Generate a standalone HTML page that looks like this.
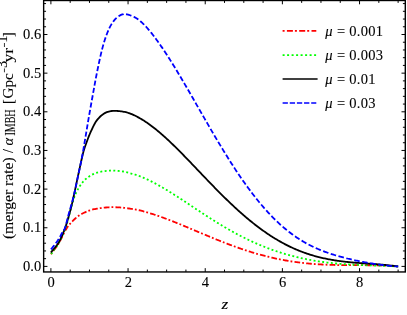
<!DOCTYPE html>
<html><head><meta charset="utf-8"><title>plot</title>
<style>
html,body{margin:0;padding:0;background:#fff;}
body{width:407px;height:315px;overflow:hidden;}
svg{display:block;will-change:transform;}
text{font-family:"Liberation Serif",serif;font-size:14.5px;fill:#000;stroke:#000;stroke-width:0.1px;}
.ax{stroke:#000;stroke-width:1.4;fill:none;}
.tk line{stroke:#000;stroke-width:1.0;}
.c{fill:none;stroke-width:1.8;}
.red{stroke:#ff0000;stroke-dasharray:1.8 2.2 5.7 2.05;}
.green{stroke:#00ff00;stroke-dasharray:1.95 2.4;}
.black{stroke:#000;}
.blue{stroke:#0000ff;stroke-dasharray:5.1 2.35;}
.redl{stroke:#ff0000;stroke-dasharray:2 2.3 6 2;}
.greenl{stroke:#00ff00;stroke-dasharray:2 2.5;}
.blackl{stroke:#000;}
.bluel{stroke:#0000ff;stroke-dasharray:5.3 1.85;}
</style></head><body>
<svg width="407" height="315" viewBox="0 0 407 315">
<path class="c red" d="M51.0,254.30 L52.0,252.86 L53.0,251.45 L54.0,250.06 L55.0,248.74 L56.0,247.46 L57.0,246.12 L58.0,244.64 L59.0,242.97 L60.0,241.11 L61.0,239.06 L62.0,237.00 L63.0,235.05 L64.0,233.14 L65.0,231.26 L66.0,229.44 L67.0,227.75 L68.0,226.29 L69.0,225.02 L70.0,223.89 L71.0,222.82 L72.0,221.78 L73.0,220.74 L74.0,219.73 L75.0,218.77 L76.0,217.89 L77.0,217.06 L78.0,216.29 L79.0,215.59 L80.0,214.94 L81.0,214.35 L82.0,213.80 L83.0,213.27 L84.0,212.78 L85.0,212.32 L86.0,211.89 L87.0,211.47 L88.0,211.08 L89.0,210.70 L90.0,210.36 L91.0,210.05 L92.0,209.75 L93.0,209.48 L94.0,209.23 L95.0,209.01 L96.0,208.83 L97.0,208.66 L98.0,208.49 L99.0,208.34 L100.0,208.20 L101.0,208.06 L102.0,207.93 L103.0,207.80 L104.0,207.69 L105.0,207.58 L106.0,207.48 L107.0,207.40 L108.0,207.34 L109.0,207.28 L110.0,207.25 L111.0,207.22 L112.0,207.20 L113.0,207.20 L114.0,207.20 L115.0,207.22 L116.0,207.25 L117.0,207.29 L118.0,207.34 L119.0,207.40 L120.0,207.47 L121.0,207.55 L122.0,207.63 L123.0,207.73 L124.0,207.84 L125.0,207.97 L126.0,208.10 L127.0,208.23 L128.0,208.36 L129.0,208.50 L130.0,208.64 L131.0,208.78 L132.0,208.93 L133.0,209.09 L134.0,209.26 L135.0,209.43 L136.0,209.62 L137.0,209.82 L138.0,210.03 L139.0,210.25 L140.0,210.49 L141.0,210.73 L142.0,210.99 L143.0,211.24 L144.0,211.51 L145.0,211.78 L146.0,212.06 L147.0,212.34 L148.0,212.63 L149.0,212.93 L150.0,213.23 L151.0,213.54 L152.0,213.85 L153.0,214.17 L154.0,214.49 L155.0,214.82 L156.0,215.16 L157.0,215.49 L158.0,215.84 L159.0,216.18 L160.0,216.54 L161.0,216.89 L162.0,217.25 L163.0,217.62 L164.0,217.98 L165.0,218.35 L166.0,218.73 L167.0,219.11 L168.0,219.49 L169.0,219.87 L170.0,220.26 L171.0,220.65 L172.0,221.04 L173.0,221.44 L174.0,221.84 L175.0,222.24 L176.0,222.64 L177.0,223.04 L178.0,223.45 L179.0,223.86 L180.0,224.27 L181.0,224.68 L182.0,225.10 L183.0,225.51 L184.0,225.93 L185.0,226.34 L186.0,226.76 L187.0,227.18 L188.0,227.60 L189.0,228.02 L190.0,228.45 L191.0,228.87 L192.0,229.29 L193.0,229.71 L194.0,230.14 L195.0,230.56 L196.0,230.98 L197.0,231.41 L198.0,231.83 L199.0,232.26 L200.0,232.68 L201.0,233.10 L202.0,233.52 L203.0,233.94 L204.0,234.36 L205.0,234.78 L206.0,235.20 L207.0,235.62 L208.0,236.04 L209.0,236.45 L210.0,236.87 L211.0,237.28 L212.0,237.69 L213.0,238.10 L214.0,238.51 L215.0,238.92 L216.0,239.33 L217.0,239.73 L218.0,240.13 L219.0,240.53 L220.0,240.93 L221.0,241.33 L222.0,241.72 L223.0,242.11 L224.0,242.50 L225.0,242.89 L226.0,243.28 L227.0,243.66 L228.0,244.04 L229.0,244.42 L230.0,244.80 L231.0,245.17 L232.0,245.54 L233.0,245.91 L234.0,246.27 L235.0,246.63 L236.0,246.99 L237.0,247.35 L238.0,247.70 L239.0,248.05 L240.0,248.40 L241.0,248.74 L242.0,249.08 L243.0,249.42 L244.0,249.75 L245.0,250.09 L246.0,250.41 L247.0,250.74 L248.0,251.06 L249.0,251.38 L250.0,251.69 L251.0,252.00 L252.0,252.31 L253.0,252.61 L254.0,252.91 L255.0,253.21 L256.0,253.50 L257.0,253.79 L258.0,254.07 L259.0,254.35 L260.0,254.63 L261.0,254.91 L262.0,255.18 L263.0,255.44 L264.0,255.71 L265.0,255.97 L266.0,256.22 L267.0,256.47 L268.0,256.72 L269.0,256.96 L270.0,257.20 L271.0,257.44 L272.0,257.67 L273.0,257.90 L274.0,258.12 L275.0,258.34 L276.0,258.56 L277.0,258.77 L278.0,258.98 L279.0,259.18 L280.0,259.38 L281.0,259.58 L282.0,259.77 L283.0,259.96 L284.0,260.15 L285.0,260.33 L286.0,260.51 L287.0,260.68 L288.0,260.85 L289.0,261.01 L290.0,261.18 L291.0,261.33 L292.0,261.49 L293.0,261.64 L294.0,261.79 L295.0,261.93 L296.0,262.07 L297.0,262.20 L298.0,262.34 L299.0,262.46 L300.0,262.59 L301.0,262.71 L302.0,262.83 L303.0,262.94 L304.0,263.05 L305.0,263.16 L306.0,263.26 L307.0,263.37 L308.0,263.46 L309.0,263.56 L310.0,263.65 L311.0,263.73 L312.0,263.82 L313.0,263.90 L314.0,263.98 L315.0,264.05 L316.0,264.12 L317.0,264.19 L318.0,264.26 L319.0,264.32 L320.0,264.38 L321.0,264.44 L322.0,264.49 L323.0,264.54 L324.0,264.59 L325.0,264.64 L326.0,264.69 L327.0,264.73 L328.0,264.77 L329.0,264.80 L330.0,264.84 L331.0,264.87 L332.0,264.90 L333.0,264.93 L334.0,264.96 L335.0,264.98 L336.0,265.00 L337.0,265.03 L338.0,265.04 L339.0,265.06 L340.0,265.08 L341.0,265.09 L342.0,265.11 L343.0,265.12 L344.0,265.13 L345.0,265.14 L346.0,265.15 L347.0,265.15 L348.0,265.16 L349.0,265.16 L350.0,265.17 L351.0,265.17 L352.0,265.18 L353.0,265.18 L354.0,265.18 L355.0,265.18 L356.0,265.19 L357.0,265.19 L358.0,265.19 L359.0,265.19 L360.0,265.19 L361.0,265.20 L362.0,265.20 L363.0,265.20 L364.0,265.20 L365.0,265.21 L366.0,265.21 L367.0,265.22 L368.0,265.23 L369.0,265.24 L370.0,265.24 L371.0,265.26 L372.0,265.27 L373.0,265.28 L374.0,265.30 L375.0,265.31 L376.0,265.33 L377.0,265.35 L378.0,265.38 L379.0,265.40 L380.0,265.43 L381.0,265.46 L382.0,265.49 L383.0,265.53 L384.0,265.57 L385.0,265.61 L386.0,265.65 L387.0,265.70 L388.0,265.75 L389.0,265.81 L390.0,265.87 L391.0,265.93 L392.0,265.99 L393.0,266.06 L394.0,266.14 L395.0,266.22 L396.0,266.30 L397.0,266.39 L398.0,266.48 L398.2,266.50"/>
<path class="c green" d="M51.2,254.00 L52.2,252.47 L53.2,251.00 L54.2,249.58 L55.2,248.28 L56.2,247.00 L57.2,245.63 L58.2,244.12 L59.2,242.42 L60.2,240.50 L61.2,238.36 L62.2,236.10 L63.2,233.76 L64.2,231.31 L65.2,228.71 L66.2,225.82 L67.2,222.65 L68.2,219.21 L69.2,215.22 L70.2,210.82 L71.2,207.24 L72.2,203.91 L73.2,200.64 L74.2,197.47 L75.2,194.73 L76.2,192.59 L77.2,190.71 L78.2,188.88 L79.2,187.14 L80.2,185.55 L81.2,184.11 L82.2,182.77 L83.2,181.57 L84.2,180.50 L85.2,179.53 L86.2,178.64 L87.2,177.82 L88.2,177.09 L89.2,176.40 L90.2,175.76 L91.2,175.17 L92.2,174.65 L93.2,174.17 L94.2,173.72 L95.2,173.31 L96.2,172.94 L97.2,172.59 L98.2,172.28 L99.2,172.02 L100.2,171.81 L101.2,171.61 L102.2,171.44 L103.2,171.28 L104.2,171.15 L105.2,171.02 L106.2,170.90 L107.2,170.80 L108.2,170.70 L109.2,170.62 L110.2,170.55 L111.2,170.51 L112.2,170.50 L113.2,170.52 L114.2,170.57 L115.2,170.64 L116.2,170.73 L117.2,170.82 L118.2,170.92 L119.2,171.01 L120.2,171.10 L121.2,171.21 L122.2,171.34 L123.2,171.50 L124.2,171.70 L125.2,171.94 L126.2,172.20 L127.2,172.46 L128.2,172.73 L129.2,173.00 L130.2,173.26 L131.2,173.53 L132.2,173.81 L133.2,174.08 L134.2,174.37 L135.2,174.67 L136.2,174.97 L137.2,175.30 L138.2,175.64 L139.2,176.01 L140.2,176.39 L141.2,176.79 L142.2,177.20 L143.2,177.62 L144.2,178.05 L145.2,178.50 L146.2,178.95 L147.2,179.41 L148.2,179.88 L149.2,180.36 L150.2,180.85 L151.2,181.34 L152.2,181.85 L153.2,182.36 L154.2,182.89 L155.2,183.42 L156.2,183.95 L157.2,184.50 L158.2,185.05 L159.2,185.61 L160.2,186.17 L161.2,186.75 L162.2,187.32 L163.2,187.91 L164.2,188.50 L165.2,189.09 L166.2,189.69 L167.2,190.30 L168.2,190.91 L169.2,191.53 L170.2,192.15 L171.2,192.77 L172.2,193.40 L173.2,194.03 L174.2,194.67 L175.2,195.31 L176.2,195.95 L177.2,196.59 L178.2,197.24 L179.2,197.89 L180.2,198.54 L181.2,199.20 L182.2,199.86 L183.2,200.51 L184.2,201.17 L185.2,201.83 L186.2,202.50 L187.2,203.16 L188.2,203.82 L189.2,204.49 L190.2,205.15 L191.2,205.82 L192.2,206.48 L193.2,207.15 L194.2,207.81 L195.2,208.48 L196.2,209.14 L197.2,209.80 L198.2,210.46 L199.2,211.12 L200.2,211.78 L201.2,212.44 L202.2,213.10 L203.2,213.75 L204.2,214.40 L205.2,215.06 L206.2,215.70 L207.2,216.35 L208.2,216.99 L209.2,217.64 L210.2,218.28 L211.2,218.91 L212.2,219.55 L213.2,220.18 L214.2,220.80 L215.2,221.43 L216.2,222.05 L217.2,222.67 L218.2,223.28 L219.2,223.89 L220.2,224.50 L221.2,225.10 L222.2,225.70 L223.2,226.30 L224.2,226.89 L225.2,227.48 L226.2,228.06 L227.2,228.64 L228.2,229.21 L229.2,229.79 L230.2,230.35 L231.2,230.91 L232.2,231.47 L233.2,232.02 L234.2,232.57 L235.2,233.12 L236.2,233.66 L237.2,234.19 L238.2,234.72 L239.2,235.24 L240.2,235.76 L241.2,236.28 L242.2,236.79 L243.2,237.29 L244.2,237.79 L245.2,238.29 L246.2,238.78 L247.2,239.27 L248.2,239.75 L249.2,240.22 L250.2,240.69 L251.2,241.16 L252.2,241.62 L253.2,242.07 L254.2,242.52 L255.2,242.97 L256.2,243.41 L257.2,243.85 L258.2,244.28 L259.2,244.70 L260.2,245.12 L261.2,245.54 L262.2,245.95 L263.2,246.35 L264.2,246.75 L265.2,247.15 L266.2,247.54 L267.2,247.93 L268.2,248.31 L269.2,248.68 L270.2,249.05 L271.2,249.42 L272.2,249.78 L273.2,250.13 L274.2,250.48 L275.2,250.83 L276.2,251.17 L277.2,251.51 L278.2,251.84 L279.2,252.16 L280.2,252.48 L281.2,252.80 L282.2,253.11 L283.2,253.42 L284.2,253.72 L285.2,254.02 L286.2,254.31 L287.2,254.60 L288.2,254.88 L289.2,255.16 L290.2,255.43 L291.2,255.70 L292.2,255.96 L293.2,256.22 L294.2,256.48 L295.2,256.73 L296.2,256.97 L297.2,257.22 L298.2,257.45 L299.2,257.68 L300.2,257.91 L301.2,258.14 L302.2,258.35 L303.2,258.57 L304.2,258.78 L305.2,258.99 L306.2,259.19 L307.2,259.39 L308.2,259.58 L309.2,259.77 L310.2,259.95 L311.2,260.14 L312.2,260.31 L313.2,260.49 L314.2,260.66 L315.2,260.82 L316.2,260.98 L317.2,261.14 L318.2,261.30 L319.2,261.45 L320.2,261.59 L321.2,261.74 L322.2,261.87 L323.2,262.01 L324.2,262.14 L325.2,262.27 L326.2,262.40 L327.2,262.52 L328.2,262.64 L329.2,262.75 L330.2,262.87 L331.2,262.98 L332.2,263.08 L333.2,263.18 L334.2,263.28 L335.2,263.38 L336.2,263.48 L337.2,263.57 L338.2,263.66 L339.2,263.74 L340.2,263.83 L341.2,263.91 L342.2,263.98 L343.2,264.06 L344.2,264.13 L345.2,264.20 L346.2,264.27 L347.2,264.34 L348.2,264.40 L349.2,264.47 L350.2,264.53 L351.2,264.58 L352.2,264.64 L353.2,264.69 L354.2,264.75 L355.2,264.80 L356.2,264.85 L357.2,264.90 L358.2,264.94 L359.2,264.99 L360.2,265.03 L361.2,265.07 L362.2,265.11 L363.2,265.15 L364.2,265.19 L365.2,265.23 L366.2,265.27 L367.2,265.30 L368.2,265.34 L369.2,265.37 L370.2,265.41 L371.2,265.44 L372.2,265.48 L373.2,265.51 L374.2,265.54 L375.2,265.58 L376.2,265.61 L377.2,265.64 L378.2,265.68 L379.2,265.71 L380.2,265.74 L381.2,265.78 L382.2,265.81 L383.2,265.85 L384.2,265.88 L385.2,265.92 L386.2,265.95 L387.2,265.99 L388.2,266.03 L389.2,266.07 L390.2,266.11 L391.2,266.16 L392.2,266.20 L393.2,266.25 L394.2,266.29 L395.2,266.34 L396.2,266.39 L397.2,266.45 L398.2,266.50"/>
<path class="c black" d="M50.8,252.50 L51.8,251.37 L52.8,250.21 L53.8,249.02 L54.8,247.80 L55.8,246.52 L56.8,245.20 L57.8,243.79 L58.8,242.19 L59.8,240.40 L60.8,238.36 L61.8,236.12 L62.8,233.80 L63.8,231.35 L64.8,228.77 L65.8,225.94 L66.8,222.86 L67.8,219.56 L68.8,216.10 L69.8,212.48 L70.8,208.68 L71.8,204.65 L72.8,200.35 L73.8,195.78 L74.8,191.09 L75.8,186.35 L76.8,181.60 L77.8,176.89 L78.8,172.25 L79.8,167.60 L80.8,163.00 L81.8,158.52 L82.8,154.24 L83.8,150.38 L84.8,147.27 L85.8,144.50 L86.8,141.73 L87.8,139.02 L88.8,136.44 L89.8,134.03 L90.8,131.73 L91.8,129.51 L92.8,127.35 L93.8,125.31 L94.8,123.45 L95.8,121.81 L96.8,120.40 L97.8,119.16 L98.8,118.03 L99.8,116.98 L100.8,116.02 L101.8,115.17 L102.8,114.40 L103.8,113.71 L104.8,113.11 L105.8,112.61 L106.8,112.18 L107.8,111.82 L108.8,111.54 L109.8,111.34 L110.8,111.15 L111.8,111.01 L112.8,110.90 L113.8,110.85 L114.8,110.85 L115.8,110.88 L116.8,110.92 L117.8,110.99 L118.8,111.07 L119.8,111.18 L120.8,111.30 L121.8,111.44 L122.8,111.59 L123.8,111.77 L124.8,111.97 L125.8,112.20 L126.8,112.46 L127.8,112.74 L128.8,113.06 L129.8,113.41 L130.8,113.79 L131.8,114.19 L132.8,114.63 L133.8,115.08 L134.8,115.56 L135.8,116.05 L136.8,116.57 L137.8,117.10 L138.8,117.65 L139.8,118.20 L140.8,118.78 L141.8,119.37 L142.8,119.98 L143.8,120.60 L144.8,121.24 L145.8,121.90 L146.8,122.57 L147.8,123.26 L148.8,123.97 L149.8,124.69 L150.8,125.42 L151.8,126.17 L152.8,126.93 L153.8,127.71 L154.8,128.49 L155.8,129.30 L156.8,130.11 L157.8,130.93 L158.8,131.77 L159.8,132.62 L160.8,133.48 L161.8,134.35 L162.8,135.23 L163.8,136.12 L164.8,137.01 L165.8,137.92 L166.8,138.84 L167.8,139.77 L168.8,140.70 L169.8,141.64 L170.8,142.59 L171.8,143.55 L172.8,144.51 L173.8,145.48 L174.8,146.46 L175.8,147.44 L176.8,148.43 L177.8,149.43 L178.8,150.43 L179.8,151.43 L180.8,152.44 L181.8,153.46 L182.8,154.48 L183.8,155.50 L184.8,156.52 L185.8,157.55 L186.8,158.59 L187.8,159.62 L188.8,160.66 L189.8,161.70 L190.8,162.74 L191.8,163.78 L192.8,164.83 L193.8,165.88 L194.8,166.92 L195.8,167.97 L196.8,169.02 L197.8,170.07 L198.8,171.12 L199.8,172.17 L200.8,173.22 L201.8,174.27 L202.8,175.32 L203.8,176.36 L204.8,177.41 L205.8,178.45 L206.8,179.50 L207.8,180.54 L208.8,181.58 L209.8,182.62 L210.8,183.65 L211.8,184.68 L212.8,185.71 L213.8,186.74 L214.8,187.76 L215.8,188.78 L216.8,189.80 L217.8,190.81 L218.8,191.82 L219.8,192.82 L220.8,193.83 L221.8,194.82 L222.8,195.82 L223.8,196.80 L224.8,197.79 L225.8,198.76 L226.8,199.74 L227.8,200.70 L228.8,201.67 L229.8,202.62 L230.8,203.58 L231.8,204.52 L232.8,205.46 L233.8,206.40 L234.8,207.32 L235.8,208.24 L236.8,209.16 L237.8,210.07 L238.8,210.97 L239.8,211.87 L240.8,212.76 L241.8,213.64 L242.8,214.51 L243.8,215.38 L244.8,216.24 L245.8,217.10 L246.8,217.94 L247.8,218.78 L248.8,219.61 L249.8,220.44 L250.8,221.25 L251.8,222.06 L252.8,222.86 L253.8,223.65 L254.8,224.44 L255.8,225.22 L256.8,225.99 L257.8,226.75 L258.8,227.50 L259.8,228.24 L260.8,228.98 L261.8,229.71 L262.8,230.43 L263.8,231.14 L264.8,231.84 L265.8,232.54 L266.8,233.22 L267.8,233.90 L268.8,234.57 L269.8,235.23 L270.8,235.88 L271.8,236.52 L272.8,237.15 L273.8,237.78 L274.8,238.40 L275.8,239.00 L276.8,239.60 L277.8,240.19 L278.8,240.77 L279.8,241.35 L280.8,241.91 L281.8,242.47 L282.8,243.01 L283.8,243.55 L284.8,244.08 L285.8,244.60 L286.8,245.11 L287.8,245.61 L288.8,246.11 L289.8,246.59 L290.8,247.07 L291.8,247.54 L292.8,248.00 L293.8,248.45 L294.8,248.89 L295.8,249.32 L296.8,249.75 L297.8,250.17 L298.8,250.58 L299.8,250.98 L300.8,251.37 L301.8,251.75 L302.8,252.13 L303.8,252.50 L304.8,252.86 L305.8,253.21 L306.8,253.55 L307.8,253.89 L308.8,254.22 L309.8,254.54 L310.8,254.85 L311.8,255.16 L312.8,255.46 L313.8,255.75 L314.8,256.03 L315.8,256.31 L316.8,256.58 L317.8,256.84 L318.8,257.10 L319.8,257.35 L320.8,257.59 L321.8,257.82 L322.8,258.05 L323.8,258.28 L324.8,258.49 L325.8,258.70 L326.8,258.91 L327.8,259.11 L328.8,259.30 L329.8,259.48 L330.8,259.66 L331.8,259.84 L332.8,260.01 L333.8,260.18 L334.8,260.34 L335.8,260.49 L336.8,260.64 L337.8,260.78 L338.8,260.92 L339.8,261.06 L340.8,261.19 L341.8,261.32 L342.8,261.44 L343.8,261.56 L344.8,261.68 L345.8,261.79 L346.8,261.90 L347.8,262.00 L348.8,262.10 L349.8,262.20 L350.8,262.30 L351.8,262.39 L352.8,262.48 L353.8,262.56 L354.8,262.65 L355.8,262.73 L356.8,262.81 L357.8,262.89 L358.8,262.97 L359.8,263.04 L360.8,263.12 L361.8,263.19 L362.8,263.26 L363.8,263.33 L364.8,263.40 L365.8,263.47 L366.8,263.54 L367.8,263.61 L368.8,263.67 L369.8,263.74 L370.8,263.81 L371.8,263.88 L372.8,263.95 L373.8,264.02 L374.8,264.09 L375.8,264.16 L376.8,264.24 L377.8,264.31 L378.8,264.39 L379.8,264.47 L380.8,264.55 L381.8,264.63 L382.8,264.72 L383.8,264.81 L384.8,264.90 L385.8,264.99 L386.8,265.09 L387.8,265.19 L388.8,265.29 L389.8,265.40 L390.8,265.52 L391.8,265.63 L392.8,265.76 L393.8,265.88 L394.8,266.01 L395.8,266.15 L396.8,266.29 L397.8,266.44 L398.2,266.50"/>
<path class="c" stroke="#0000ff" d="M51.00,249.30 L52.00,248.14 L53.00,246.92 L54.00,245.67 L54.36,245.21 M55.77,243.32 L56.75,241.97 L57.75,240.55 L58.75,239.03 L58.76,239.00 M59.97,236.99 L60.75,235.51 L61.75,233.49 L62.33,232.37 M63.69,230.44 L64.50,229.11 L65.50,226.32 L65.68,225.71 M66.28,223.49 L67.25,219.66 L67.54,218.52 M68.12,216.30 L69.00,213.11 L69.49,211.36 M70.12,209.14 L71.00,206.00 L71.50,204.21 M72.11,201.99 L73.00,198.68 L73.43,197.03 M73.97,194.80 L74.75,191.46 L75.12,189.81 M75.61,187.57 L76.50,183.40 L76.68,182.57 M77.15,180.32 L78.00,176.27 L78.20,175.32 M78.68,173.07 L79.50,169.24 L79.75,168.07 M80.22,165.83 L81.00,162.07 L81.25,160.82 M81.70,158.57 L82.50,154.40 L82.66,153.55 M83.07,151.29 L83.94,146.26 M84.33,144.00 L85.18,138.97 M85.56,136.71 L86.39,131.67 M86.77,129.41 L87.60,124.37 M87.98,122.11 L88.75,117.59 L88.84,117.08 M89.23,114.82 L90.00,110.49 L90.13,109.79 M90.53,107.53 L91.43,102.50 M91.84,100.25 L92.75,95.22 M93.16,92.96 L94.00,88.30 L94.07,87.94 M94.48,85.68 L95.25,81.46 L95.40,80.66 M95.82,78.40 L96.75,73.60 L96.79,73.39 M97.25,71.13 L98.00,67.49 L98.28,66.13 M98.75,63.88 L99.75,59.19 L99.82,58.88 M100.32,56.64 L101.25,52.64 L101.49,51.66 M102.05,49.43 L103.00,45.87 L103.40,44.48 M104.05,42.27 L105.00,39.30 L105.65,37.39 M106.42,35.21 L107.25,33.02 L108.25,30.56 L108.31,30.42 M109.26,28.30 L110.25,26.33 L111.25,24.59 L111.78,23.74 M113.10,21.79 L114.00,20.60 L115.00,19.41 L116.00,18.38 L116.61,17.83 M118.53,16.34 L119.50,15.69 L120.50,15.11 L121.50,14.63 L122.50,14.29 L123.50,14.10 L123.51,14.09 M126.02,14.25 L127.00,14.45 L128.00,14.68 L129.00,14.95 L130.00,15.25 L131.00,15.59 L131.40,15.73 M133.68,16.71 L134.50,17.12 L135.50,17.67 L136.50,18.28 L137.50,18.94 L138.34,19.55 M140.23,21.07 L141.00,21.74 L142.00,22.65 L143.00,23.60 L144.00,24.59 L144.14,24.74 M145.79,26.47 L146.75,27.51 L147.75,28.63 L148.75,29.79 L149.31,30.44 M150.82,32.28 L151.75,33.43 L152.75,34.70 L153.75,35.99 L154.08,36.43 M155.51,38.32 L156.50,39.67 L157.50,41.05 L158.50,42.44 L158.59,42.58 M159.95,44.51 L160.75,45.66 L161.75,47.12 L162.75,48.59 L162.92,48.84 M164.22,50.79 L165.00,51.97 L166.00,53.49 L167.00,55.03 L167.09,55.18 M168.37,57.15 L169.25,58.54 L170.25,60.12 L171.16,61.57 M172.40,63.57 L173.25,64.94 L174.25,66.56 L175.14,68.02 M176.36,70.02 L177.25,71.50 L178.25,73.17 L179.05,74.50 M180.25,76.51 L181.00,77.78 L182.00,79.48 L182.90,81.00 M184.08,83.02 L185.00,84.59 L186.00,86.31 L186.71,87.53 M187.89,89.55 L188.75,91.05 L189.75,92.78 L190.49,94.07 M191.66,96.10 L192.50,97.55 L193.50,99.29 L194.26,100.61 M195.42,102.65 L196.25,104.09 L197.25,105.83 L198.01,107.17 M199.18,109.20 L200.00,110.63 L201.00,112.38 L201.77,113.72 M202.93,115.75 L203.75,117.17 L204.75,118.90 L205.53,120.27 M206.70,122.29 L207.50,123.67 L208.50,125.40 L209.32,126.80 M210.50,128.83 L211.25,130.12 L212.25,131.83 L213.13,133.33 M214.31,135.35 L215.25,136.94 L216.25,138.63 L216.97,139.84 M218.17,141.85 L219.00,143.24 L220.00,144.90 L220.86,146.33 M222.08,148.33 L223.00,149.85 L224.00,151.49 L224.80,152.79 M226.04,154.79 L227.00,156.34 L228.00,157.94 L228.81,159.22 M230.06,161.21 L231.00,162.68 L232.00,164.24 L232.88,165.61 M234.16,167.59 L235.00,168.87 L236.00,170.38 L237.00,171.89 L237.05,171.96 M238.35,173.92 L239.25,175.25 L240.25,176.72 L241.25,178.18 L241.31,178.26 M242.65,180.19 L243.50,181.41 L244.50,182.83 L245.50,184.24 L245.68,184.49 M247.06,186.40 L248.00,187.70 L249.00,189.06 L250.00,190.41 L250.17,190.65 M251.60,192.54 L252.50,193.73 L253.50,195.03 L254.50,196.31 L254.81,196.72 M256.28,198.58 L257.25,199.78 L258.25,201.02 L259.25,202.24 L259.62,202.68 M261.14,204.51 L262.00,205.52 L263.00,206.69 L264.00,207.84 L264.60,208.53 M266.19,210.31 L267.00,211.21 L268.00,212.30 L269.00,213.38 L269.79,214.22 M271.44,215.95 L272.25,216.78 L273.25,217.80 L274.25,218.80 L275.20,219.74 M276.93,221.41 L277.75,222.19 L278.75,223.12 L279.75,224.04 L280.75,224.95 L280.87,225.05 M282.68,226.65 L283.50,227.36 L284.50,228.21 L285.50,229.04 L286.50,229.86 L286.81,230.11 M288.71,231.62 L289.50,232.24 L290.50,233.00 L291.50,233.75 L292.50,234.49 L293.03,234.88 M295.03,236.29 L296.00,236.96 L297.00,237.63 L298.00,238.30 L299.00,238.95 L299.56,239.30 M301.65,240.60 L302.50,241.11 L303.50,241.71 L304.50,242.29 L305.50,242.85 L306.39,243.35 M308.56,244.52 L309.50,245.01 L310.50,245.52 L311.50,246.01 L312.50,246.50 L313.49,246.98 M315.75,248.02 L316.50,248.35 L317.50,248.79 L318.50,249.22 L319.50,249.64 L320.50,250.05 L320.84,250.19 M323.16,251.10 L324.00,251.42 L325.00,251.80 L326.00,252.16 L327.00,252.52 L328.00,252.87 L328.38,253.01 M330.75,253.81 L331.50,254.05 L332.50,254.38 L333.50,254.69 L334.50,255.00 L335.50,255.31 L336.07,255.48 M338.47,256.18 L339.25,256.40 L340.25,256.68 L341.25,256.95 L342.25,257.22 L343.25,257.49 L343.86,257.65 M346.30,258.27 L347.25,258.50 L348.25,258.75 L349.25,258.99 L350.25,259.22 L351.25,259.45 L351.74,259.57 M354.20,260.12 L355.00,260.29 L356.00,260.51 L357.00,260.72 L358.00,260.93 L359.00,261.13 L359.68,261.27 M362.15,261.76 L363.00,261.92 L364.00,262.11 L365.00,262.29 L366.00,262.47 L367.00,262.65 L367.67,262.77 M370.16,263.20 L371.00,263.34 L372.00,263.51 L373.00,263.67 L374.00,263.82 L375.00,263.98 L375.70,264.08 M378.20,264.45 L379.00,264.56 L380.00,264.70 L381.00,264.83 L382.00,264.97 L383.00,265.09 L383.77,265.19 M386.28,265.48 L387.25,265.59 L388.25,265.69 L389.25,265.80 L390.25,265.89 L391.25,265.99 L391.87,266.04 M394.39,266.25 L395.25,266.31 L396.25,266.38 L397.25,266.44 L398.20,266.50"/>
<g class="tk">
<line x1="50.90" y1="271.95" x2="50.90" y2="268.15"/>
<line x1="50.90" y1="0.5" x2="50.90" y2="4.30"/>
<line x1="70.19" y1="271.95" x2="70.19" y2="269.55"/>
<line x1="70.19" y1="0.5" x2="70.19" y2="2.90"/>
<line x1="89.48" y1="271.95" x2="89.48" y2="269.55"/>
<line x1="89.48" y1="0.5" x2="89.48" y2="2.90"/>
<line x1="108.77" y1="271.95" x2="108.77" y2="269.55"/>
<line x1="108.77" y1="0.5" x2="108.77" y2="2.90"/>
<line x1="128.06" y1="271.95" x2="128.06" y2="268.15"/>
<line x1="128.06" y1="0.5" x2="128.06" y2="4.30"/>
<line x1="147.35" y1="271.95" x2="147.35" y2="269.55"/>
<line x1="147.35" y1="0.5" x2="147.35" y2="2.90"/>
<line x1="166.64" y1="271.95" x2="166.64" y2="269.55"/>
<line x1="166.64" y1="0.5" x2="166.64" y2="2.90"/>
<line x1="185.93" y1="271.95" x2="185.93" y2="269.55"/>
<line x1="185.93" y1="0.5" x2="185.93" y2="2.90"/>
<line x1="205.22" y1="271.95" x2="205.22" y2="268.15"/>
<line x1="205.22" y1="0.5" x2="205.22" y2="4.30"/>
<line x1="224.51" y1="271.95" x2="224.51" y2="269.55"/>
<line x1="224.51" y1="0.5" x2="224.51" y2="2.90"/>
<line x1="243.80" y1="271.95" x2="243.80" y2="269.55"/>
<line x1="243.80" y1="0.5" x2="243.80" y2="2.90"/>
<line x1="263.09" y1="271.95" x2="263.09" y2="269.55"/>
<line x1="263.09" y1="0.5" x2="263.09" y2="2.90"/>
<line x1="282.38" y1="271.95" x2="282.38" y2="268.15"/>
<line x1="282.38" y1="0.5" x2="282.38" y2="4.30"/>
<line x1="301.67" y1="271.95" x2="301.67" y2="269.55"/>
<line x1="301.67" y1="0.5" x2="301.67" y2="2.90"/>
<line x1="320.96" y1="271.95" x2="320.96" y2="269.55"/>
<line x1="320.96" y1="0.5" x2="320.96" y2="2.90"/>
<line x1="340.25" y1="271.95" x2="340.25" y2="269.55"/>
<line x1="340.25" y1="0.5" x2="340.25" y2="2.90"/>
<line x1="359.54" y1="271.95" x2="359.54" y2="268.15"/>
<line x1="359.54" y1="0.5" x2="359.54" y2="4.30"/>
<line x1="378.83" y1="271.95" x2="378.83" y2="269.55"/>
<line x1="378.83" y1="0.5" x2="378.83" y2="2.90"/>
<line x1="398.12" y1="271.95" x2="398.12" y2="269.55"/>
<line x1="398.12" y1="0.5" x2="398.12" y2="2.90"/>
<line x1="43.65" y1="266.40" x2="47.45" y2="266.40"/>
<line x1="405.3" y1="266.40" x2="401.50" y2="266.40"/>
<line x1="43.65" y1="258.67" x2="46.05" y2="258.67"/>
<line x1="405.3" y1="258.67" x2="402.90" y2="258.67"/>
<line x1="43.65" y1="250.94" x2="46.05" y2="250.94"/>
<line x1="405.3" y1="250.94" x2="402.90" y2="250.94"/>
<line x1="43.65" y1="243.21" x2="46.05" y2="243.21"/>
<line x1="405.3" y1="243.21" x2="402.90" y2="243.21"/>
<line x1="43.65" y1="235.48" x2="46.05" y2="235.48"/>
<line x1="405.3" y1="235.48" x2="402.90" y2="235.48"/>
<line x1="43.65" y1="227.75" x2="47.45" y2="227.75"/>
<line x1="405.3" y1="227.75" x2="401.50" y2="227.75"/>
<line x1="43.65" y1="220.02" x2="46.05" y2="220.02"/>
<line x1="405.3" y1="220.02" x2="402.90" y2="220.02"/>
<line x1="43.65" y1="212.29" x2="46.05" y2="212.29"/>
<line x1="405.3" y1="212.29" x2="402.90" y2="212.29"/>
<line x1="43.65" y1="204.56" x2="46.05" y2="204.56"/>
<line x1="405.3" y1="204.56" x2="402.90" y2="204.56"/>
<line x1="43.65" y1="196.83" x2="46.05" y2="196.83"/>
<line x1="405.3" y1="196.83" x2="402.90" y2="196.83"/>
<line x1="43.65" y1="189.10" x2="47.45" y2="189.10"/>
<line x1="405.3" y1="189.10" x2="401.50" y2="189.10"/>
<line x1="43.65" y1="181.37" x2="46.05" y2="181.37"/>
<line x1="405.3" y1="181.37" x2="402.90" y2="181.37"/>
<line x1="43.65" y1="173.64" x2="46.05" y2="173.64"/>
<line x1="405.3" y1="173.64" x2="402.90" y2="173.64"/>
<line x1="43.65" y1="165.91" x2="46.05" y2="165.91"/>
<line x1="405.3" y1="165.91" x2="402.90" y2="165.91"/>
<line x1="43.65" y1="158.18" x2="46.05" y2="158.18"/>
<line x1="405.3" y1="158.18" x2="402.90" y2="158.18"/>
<line x1="43.65" y1="150.45" x2="47.45" y2="150.45"/>
<line x1="405.3" y1="150.45" x2="401.50" y2="150.45"/>
<line x1="43.65" y1="142.72" x2="46.05" y2="142.72"/>
<line x1="405.3" y1="142.72" x2="402.90" y2="142.72"/>
<line x1="43.65" y1="134.99" x2="46.05" y2="134.99"/>
<line x1="405.3" y1="134.99" x2="402.90" y2="134.99"/>
<line x1="43.65" y1="127.26" x2="46.05" y2="127.26"/>
<line x1="405.3" y1="127.26" x2="402.90" y2="127.26"/>
<line x1="43.65" y1="119.53" x2="46.05" y2="119.53"/>
<line x1="405.3" y1="119.53" x2="402.90" y2="119.53"/>
<line x1="43.65" y1="111.80" x2="47.45" y2="111.80"/>
<line x1="405.3" y1="111.80" x2="401.50" y2="111.80"/>
<line x1="43.65" y1="104.07" x2="46.05" y2="104.07"/>
<line x1="405.3" y1="104.07" x2="402.90" y2="104.07"/>
<line x1="43.65" y1="96.34" x2="46.05" y2="96.34"/>
<line x1="405.3" y1="96.34" x2="402.90" y2="96.34"/>
<line x1="43.65" y1="88.61" x2="46.05" y2="88.61"/>
<line x1="405.3" y1="88.61" x2="402.90" y2="88.61"/>
<line x1="43.65" y1="80.88" x2="46.05" y2="80.88"/>
<line x1="405.3" y1="80.88" x2="402.90" y2="80.88"/>
<line x1="43.65" y1="73.15" x2="47.45" y2="73.15"/>
<line x1="405.3" y1="73.15" x2="401.50" y2="73.15"/>
<line x1="43.65" y1="65.42" x2="46.05" y2="65.42"/>
<line x1="405.3" y1="65.42" x2="402.90" y2="65.42"/>
<line x1="43.65" y1="57.69" x2="46.05" y2="57.69"/>
<line x1="405.3" y1="57.69" x2="402.90" y2="57.69"/>
<line x1="43.65" y1="49.96" x2="46.05" y2="49.96"/>
<line x1="405.3" y1="49.96" x2="402.90" y2="49.96"/>
<line x1="43.65" y1="42.23" x2="46.05" y2="42.23"/>
<line x1="405.3" y1="42.23" x2="402.90" y2="42.23"/>
<line x1="43.65" y1="34.50" x2="47.45" y2="34.50"/>
<line x1="405.3" y1="34.50" x2="401.50" y2="34.50"/>
<line x1="43.65" y1="26.77" x2="46.05" y2="26.77"/>
<line x1="405.3" y1="26.77" x2="402.90" y2="26.77"/>
<line x1="43.65" y1="19.04" x2="46.05" y2="19.04"/>
<line x1="405.3" y1="19.04" x2="402.90" y2="19.04"/>
<line x1="43.65" y1="11.31" x2="46.05" y2="11.31"/>
<line x1="405.3" y1="11.31" x2="402.90" y2="11.31"/>
<line x1="43.65" y1="3.58" x2="46.05" y2="3.58"/>
<line x1="405.3" y1="3.58" x2="402.90" y2="3.58"/>
</g>
<rect class="ax" x="43.65" y="0.5" width="361.65000000000003" height="271.45"/>
<g>
<text x="51.1" y="286.8" text-anchor="middle">0</text>
<text x="128.3" y="286.8" text-anchor="middle">2</text>
<text x="205.4" y="286.8" text-anchor="middle">4</text>
<text x="282.6" y="286.8" text-anchor="middle">6</text>
<text x="359.7" y="286.8" text-anchor="middle">8</text>
<text x="41.2" y="270.8" text-anchor="end">0.0</text>
<text x="41.2" y="232.1" text-anchor="end">0.1</text>
<text x="41.2" y="193.5" text-anchor="end">0.2</text>
<text x="41.2" y="154.8" text-anchor="end">0.3</text>
<text x="41.2" y="116.2" text-anchor="end">0.4</text>
<text x="41.2" y="77.5" text-anchor="end">0.5</text>
<text x="41.2" y="38.9" text-anchor="end">0.6</text>
</g>
<text x="221.5" y="308.5" font-style="italic" font-size="15" stroke="none" textLength="6.7" lengthAdjust="spacingAndGlyphs">z</text>
<g transform="translate(12.8,238.7) rotate(-90)">
<text x="-0.4" y="0" textLength="81.8" lengthAdjust="spacingAndGlyphs">(merger rate)</text>
<text x="85.6" y="0">/</text>
<text x="93.2" y="0" font-style="italic" font-size="15.6">α</text>
<text x="103.1" y="2.2" font-size="8.4" textLength="26.2" lengthAdjust="spacingAndGlyphs">IMBH</text>
<text x="134.6" y="0">[</text>
<text x="140.2" y="0" textLength="25.4" lengthAdjust="spacingAndGlyphs">Gpc</text>
<text x="166.0" y="-4.2" font-size="10" textLength="4.6" lengthAdjust="spacingAndGlyphs">−</text>
<text x="170.6" y="-5.8" font-size="10">3</text>
<text x="176.1" y="0" textLength="14.8" lengthAdjust="spacingAndGlyphs">yr</text>
<text x="191.2" y="-4.2" font-size="10" textLength="4.8" lengthAdjust="spacingAndGlyphs">−</text>
<text x="196.0" y="-5.8" font-size="10">1</text>
<text x="201.7" y="0">]</text>
</g>
<g>
<line class="c redl" style="stroke-width:1.65" x1="282.6" y1="30.9" x2="316.3" y2="30.9"/>
<text y="35.7"><tspan x="325.2" font-style="italic">μ</tspan><tspan x="337.0">=</tspan><tspan x="349.3" letter-spacing="0.28">0.001</tspan></text>
<line class="c greenl" style="stroke-width:1.65" x1="282.6" y1="55.1" x2="316.3" y2="55.1"/>
<text y="59.9"><tspan x="325.2" font-style="italic">μ</tspan><tspan x="337.0">=</tspan><tspan x="349.3" letter-spacing="0.28">0.003</tspan></text>
<line class="c blackl" style="stroke-width:1.65" x1="282.6" y1="79.0" x2="317.6" y2="79.0"/>
<text y="83.8"><tspan x="325.2" font-style="italic">μ</tspan><tspan x="337.0">=</tspan><tspan x="349.3" letter-spacing="0.28">0.01</tspan></text>
<line class="c bluel" style="stroke-width:1.65" x1="282.6" y1="103.0" x2="316.3" y2="103.0"/>
<text y="107.8"><tspan x="325.2" font-style="italic">μ</tspan><tspan x="337.0">=</tspan><tspan x="349.3" letter-spacing="0.28">0.03</tspan></text>
</g>
</svg>
</body></html>
